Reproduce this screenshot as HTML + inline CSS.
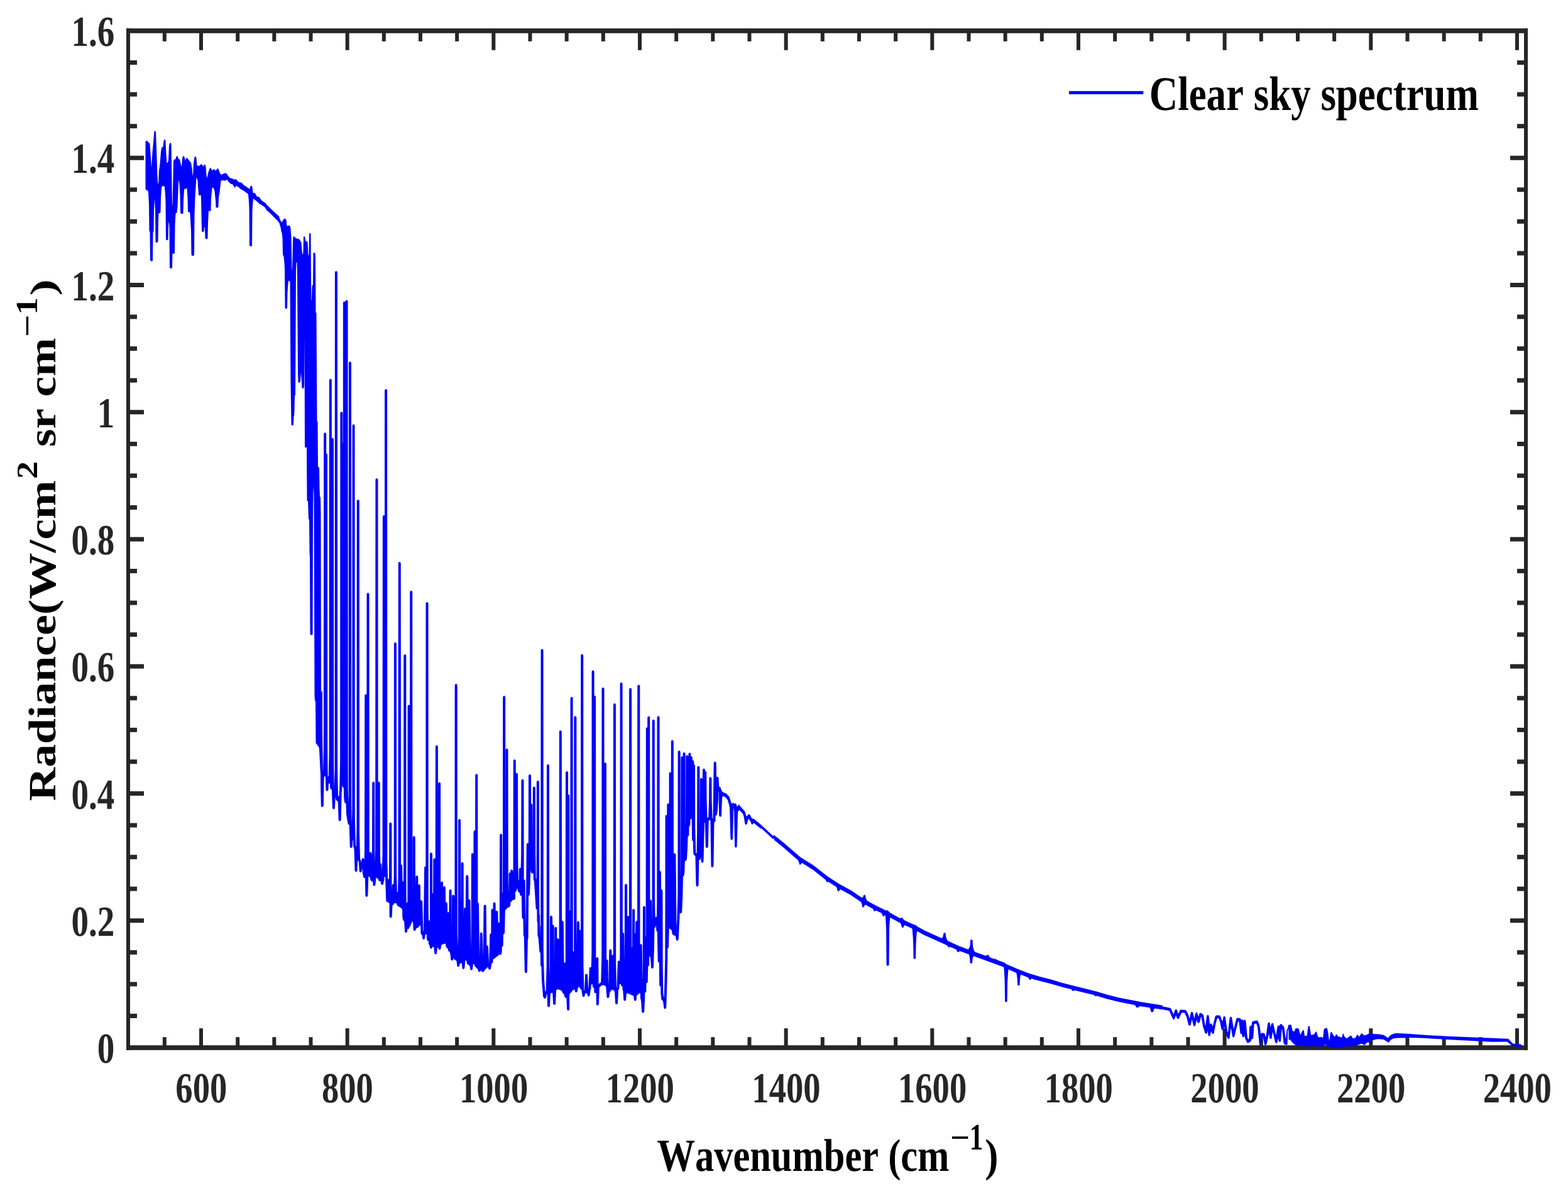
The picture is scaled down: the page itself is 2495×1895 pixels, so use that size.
<!DOCTYPE html>
<html lang="en">
<head>
<meta charset="utf-8">
<title>Clear sky spectrum</title>
<style>
html,body{margin:0;padding:0;background:#fff;}
body{width:2495px;height:1895px;overflow:hidden;}
svg{display:block;}
text{font-family:"Liberation Serif","Times New Roman",serif;font-weight:bold;font-kerning:none;font-variant-ligatures:none;text-rendering:geometricPrecision;}
</style>
</head>
<body>
<svg xmlns="http://www.w3.org/2000/svg" width="2495" height="1895" viewBox="0 0 2495 1895">
<rect x="0" y="0" width="2495" height="1895" fill="#fff"/>
<g fill="#262626">
<rect x="201.00" y="45.20" width="6.00" height="1625.60"/>
<rect x="2425.00" y="45.20" width="6.00" height="1625.60"/>
<rect x="201.00" y="45.20" width="2230.00" height="7.60"/>
<rect x="201.00" y="1663.20" width="2230.00" height="7.60"/>
<rect x="258.83" y="49.00" width="6.00" height="16.80"/>
<rect x="258.83" y="1650.20" width="6.00" height="16.80"/>
<rect x="317.00" y="49.00" width="6.00" height="30.80"/>
<rect x="317.00" y="1636.20" width="6.00" height="30.80"/>
<rect x="375.17" y="49.00" width="6.00" height="16.80"/>
<rect x="375.17" y="1650.20" width="6.00" height="16.80"/>
<rect x="433.33" y="49.00" width="6.00" height="16.80"/>
<rect x="433.33" y="1650.20" width="6.00" height="16.80"/>
<rect x="491.50" y="49.00" width="6.00" height="16.80"/>
<rect x="491.50" y="1650.20" width="6.00" height="16.80"/>
<rect x="549.66" y="49.00" width="6.00" height="30.80"/>
<rect x="549.66" y="1636.20" width="6.00" height="30.80"/>
<rect x="607.83" y="49.00" width="6.00" height="16.80"/>
<rect x="607.83" y="1650.20" width="6.00" height="16.80"/>
<rect x="665.99" y="49.00" width="6.00" height="16.80"/>
<rect x="665.99" y="1650.20" width="6.00" height="16.80"/>
<rect x="724.16" y="49.00" width="6.00" height="16.80"/>
<rect x="724.16" y="1650.20" width="6.00" height="16.80"/>
<rect x="782.32" y="49.00" width="6.00" height="30.80"/>
<rect x="782.32" y="1636.20" width="6.00" height="30.80"/>
<rect x="840.49" y="49.00" width="6.00" height="16.80"/>
<rect x="840.49" y="1650.20" width="6.00" height="16.80"/>
<rect x="898.66" y="49.00" width="6.00" height="16.80"/>
<rect x="898.66" y="1650.20" width="6.00" height="16.80"/>
<rect x="956.82" y="49.00" width="6.00" height="16.80"/>
<rect x="956.82" y="1650.20" width="6.00" height="16.80"/>
<rect x="1014.99" y="49.00" width="6.00" height="30.80"/>
<rect x="1014.99" y="1636.20" width="6.00" height="30.80"/>
<rect x="1073.15" y="49.00" width="6.00" height="16.80"/>
<rect x="1073.15" y="1650.20" width="6.00" height="16.80"/>
<rect x="1131.32" y="49.00" width="6.00" height="16.80"/>
<rect x="1131.32" y="1650.20" width="6.00" height="16.80"/>
<rect x="1189.48" y="49.00" width="6.00" height="16.80"/>
<rect x="1189.48" y="1650.20" width="6.00" height="16.80"/>
<rect x="1247.65" y="49.00" width="6.00" height="30.80"/>
<rect x="1247.65" y="1636.20" width="6.00" height="30.80"/>
<rect x="1305.81" y="49.00" width="6.00" height="16.80"/>
<rect x="1305.81" y="1650.20" width="6.00" height="16.80"/>
<rect x="1363.98" y="49.00" width="6.00" height="16.80"/>
<rect x="1363.98" y="1650.20" width="6.00" height="16.80"/>
<rect x="1422.14" y="49.00" width="6.00" height="16.80"/>
<rect x="1422.14" y="1650.20" width="6.00" height="16.80"/>
<rect x="1480.31" y="49.00" width="6.00" height="30.80"/>
<rect x="1480.31" y="1636.20" width="6.00" height="30.80"/>
<rect x="1538.48" y="49.00" width="6.00" height="16.80"/>
<rect x="1538.48" y="1650.20" width="6.00" height="16.80"/>
<rect x="1596.64" y="49.00" width="6.00" height="16.80"/>
<rect x="1596.64" y="1650.20" width="6.00" height="16.80"/>
<rect x="1654.81" y="49.00" width="6.00" height="16.80"/>
<rect x="1654.81" y="1650.20" width="6.00" height="16.80"/>
<rect x="1712.97" y="49.00" width="6.00" height="30.80"/>
<rect x="1712.97" y="1636.20" width="6.00" height="30.80"/>
<rect x="1771.14" y="49.00" width="6.00" height="16.80"/>
<rect x="1771.14" y="1650.20" width="6.00" height="16.80"/>
<rect x="1829.30" y="49.00" width="6.00" height="16.80"/>
<rect x="1829.30" y="1650.20" width="6.00" height="16.80"/>
<rect x="1887.47" y="49.00" width="6.00" height="16.80"/>
<rect x="1887.47" y="1650.20" width="6.00" height="16.80"/>
<rect x="1945.63" y="49.00" width="6.00" height="30.80"/>
<rect x="1945.63" y="1636.20" width="6.00" height="30.80"/>
<rect x="2003.80" y="49.00" width="6.00" height="16.80"/>
<rect x="2003.80" y="1650.20" width="6.00" height="16.80"/>
<rect x="2061.97" y="49.00" width="6.00" height="16.80"/>
<rect x="2061.97" y="1650.20" width="6.00" height="16.80"/>
<rect x="2120.13" y="49.00" width="6.00" height="16.80"/>
<rect x="2120.13" y="1650.20" width="6.00" height="16.80"/>
<rect x="2178.30" y="49.00" width="6.00" height="30.80"/>
<rect x="2178.30" y="1636.20" width="6.00" height="30.80"/>
<rect x="2236.46" y="49.00" width="6.00" height="16.80"/>
<rect x="2236.46" y="1650.20" width="6.00" height="16.80"/>
<rect x="2294.63" y="49.00" width="6.00" height="16.80"/>
<rect x="2294.63" y="1650.20" width="6.00" height="16.80"/>
<rect x="2352.79" y="49.00" width="6.00" height="16.80"/>
<rect x="2352.79" y="1650.20" width="6.00" height="16.80"/>
<rect x="2410.96" y="49.00" width="6.00" height="30.80"/>
<rect x="2410.96" y="1636.20" width="6.00" height="30.80"/>
<rect x="204.00" y="1612.94" width="14.00" height="7.00"/>
<rect x="2414.00" y="1612.94" width="14.00" height="7.00"/>
<rect x="204.00" y="1562.38" width="14.00" height="7.00"/>
<rect x="2414.00" y="1562.38" width="14.00" height="7.00"/>
<rect x="204.00" y="1511.81" width="14.00" height="7.00"/>
<rect x="2414.00" y="1511.81" width="14.00" height="7.00"/>
<rect x="204.00" y="1461.25" width="25.00" height="7.00"/>
<rect x="2403.00" y="1461.25" width="25.00" height="7.00"/>
<rect x="204.00" y="1410.69" width="14.00" height="7.00"/>
<rect x="2414.00" y="1410.69" width="14.00" height="7.00"/>
<rect x="204.00" y="1360.12" width="14.00" height="7.00"/>
<rect x="2414.00" y="1360.12" width="14.00" height="7.00"/>
<rect x="204.00" y="1309.56" width="14.00" height="7.00"/>
<rect x="2414.00" y="1309.56" width="14.00" height="7.00"/>
<rect x="204.00" y="1259.00" width="25.00" height="7.00"/>
<rect x="2403.00" y="1259.00" width="25.00" height="7.00"/>
<rect x="204.00" y="1208.44" width="14.00" height="7.00"/>
<rect x="2414.00" y="1208.44" width="14.00" height="7.00"/>
<rect x="204.00" y="1157.88" width="14.00" height="7.00"/>
<rect x="2414.00" y="1157.88" width="14.00" height="7.00"/>
<rect x="204.00" y="1107.31" width="14.00" height="7.00"/>
<rect x="2414.00" y="1107.31" width="14.00" height="7.00"/>
<rect x="204.00" y="1056.75" width="25.00" height="7.00"/>
<rect x="2403.00" y="1056.75" width="25.00" height="7.00"/>
<rect x="204.00" y="1006.19" width="14.00" height="7.00"/>
<rect x="2414.00" y="1006.19" width="14.00" height="7.00"/>
<rect x="204.00" y="955.62" width="14.00" height="7.00"/>
<rect x="2414.00" y="955.62" width="14.00" height="7.00"/>
<rect x="204.00" y="905.06" width="14.00" height="7.00"/>
<rect x="2414.00" y="905.06" width="14.00" height="7.00"/>
<rect x="204.00" y="854.50" width="25.00" height="7.00"/>
<rect x="2403.00" y="854.50" width="25.00" height="7.00"/>
<rect x="204.00" y="803.94" width="14.00" height="7.00"/>
<rect x="2414.00" y="803.94" width="14.00" height="7.00"/>
<rect x="204.00" y="753.38" width="14.00" height="7.00"/>
<rect x="2414.00" y="753.38" width="14.00" height="7.00"/>
<rect x="204.00" y="702.81" width="14.00" height="7.00"/>
<rect x="2414.00" y="702.81" width="14.00" height="7.00"/>
<rect x="204.00" y="652.25" width="25.00" height="7.00"/>
<rect x="2403.00" y="652.25" width="25.00" height="7.00"/>
<rect x="204.00" y="601.69" width="14.00" height="7.00"/>
<rect x="2414.00" y="601.69" width="14.00" height="7.00"/>
<rect x="204.00" y="551.12" width="14.00" height="7.00"/>
<rect x="2414.00" y="551.12" width="14.00" height="7.00"/>
<rect x="204.00" y="500.56" width="14.00" height="7.00"/>
<rect x="2414.00" y="500.56" width="14.00" height="7.00"/>
<rect x="204.00" y="450.00" width="25.00" height="7.00"/>
<rect x="2403.00" y="450.00" width="25.00" height="7.00"/>
<rect x="204.00" y="399.44" width="14.00" height="7.00"/>
<rect x="2414.00" y="399.44" width="14.00" height="7.00"/>
<rect x="204.00" y="348.88" width="14.00" height="7.00"/>
<rect x="2414.00" y="348.88" width="14.00" height="7.00"/>
<rect x="204.00" y="298.31" width="14.00" height="7.00"/>
<rect x="2414.00" y="298.31" width="14.00" height="7.00"/>
<rect x="204.00" y="247.75" width="25.00" height="7.00"/>
<rect x="2403.00" y="247.75" width="25.00" height="7.00"/>
<rect x="204.00" y="197.19" width="14.00" height="7.00"/>
<rect x="2414.00" y="197.19" width="14.00" height="7.00"/>
<rect x="204.00" y="146.62" width="14.00" height="7.00"/>
<rect x="2414.00" y="146.62" width="14.00" height="7.00"/>
<rect x="204.00" y="96.06" width="14.00" height="7.00"/>
<rect x="2414.00" y="96.06" width="14.00" height="7.00"/>
</g>
<polygon points="231.5,225 233.5,223.4 235,225.2 237,226.8 238.5,229 241,267.1 242.5,242.6 245.5,209.2 246.5,208 248,209.5 250.5,279.7 251,289.3 252,293.3 253,271.4 254.5,260.8 256,242.1 257,235.4 258,233.6 259,234.8 259.5,232.7 260,227.1 260.5,224.6 261.5,222.2 262,221.7 263,222.6 263.5,225.4 264.5,246.4 265.5,259.3 266,259.6 267,258.3 268,255.2 269,231.7 269.5,229.5 270.5,227.5 271,227.1 272.5,228.4 274,325.3 274.5,326.9 276,256.2 277.5,253 279,254.1 280.5,249.5 281.5,247.9 282,247.7 284.5,253.6 286,253.5 288.5,264.2 289,264.8 290,252 291.5,247.8 292,248 293.5,249.8 295,255.8 296,251.8 297.5,251.2 304,259 305.5,268.1 306.5,278.9 307,278.4 308,260 309.5,250 311,248.2 312.5,251.7 313.5,262.7 314,263.2 315.5,264 317.5,263.5 320.5,260.7 322,262.2 323,264.9 324.5,262.3 326,261.7 327,263.3 327.5,265.4 328.5,279 329.5,283.2 331.5,274 333.5,268.2 335,266.5 337.5,271.2 338,271.2 340,268.8 342,270.5 343,271.9 345,269.2 346.5,267.8 347,268.1 348,270.1 350,275.4 352,278 357,275.8 359,275.3 361,277 363.5,280.6 366,283 369.5,284 373,285.7 375.5,285 378,288 380.5,290 384.5,290.5 387,293.7 397,300.6 397.5,300.4 398.5,296 400,295.4 401,296.2 401.5,297.6 402.5,306.9 405,306.7 406.5,308.4 409,312.9 412,313.1 412.5,313.5 414.5,316.4 417.5,319.9 422,322.8 425,326.3 432.5,333.8 444,344.3 446,350.2 448,353.5 448.5,353.8 450.5,349.8 452.5,347.8 453.5,347.4 454.5,349 455.5,349.6 456.5,359.6 460,358.4 462,360.4 462.5,364.4 463.5,378.1 464.5,429 465,429.5 466,384.1 466.5,376.7 468,376 470.5,378.8 472,379.6 474.5,379.7 477,381.4 479.5,386.3 481,404.7 482,403.6 482.5,400.2 483,376.8 484,376 485,376.7 486.5,384.1 488,383.7 489.5,384.9 490.5,406.5 491,406.1 491.5,404.6 492,373 492.5,371 493,370.6 494.5,371.9 495,449.3 495.5,478.1 496,478.1 496.5,456.8 497,453.7 497.5,453.7 498,452.6 498.5,403 500,401.8 501.5,402.7 502,410.8 502.5,497.2 503.5,497.8 504.5,670.5 505.5,670.5 506,742.9 508,743.7 508.5,776.2 509,790.2 510,791.2 510.5,817.8 511,1100.7 512,1101.2 513,1095.9 513,1284.1 512,1283.9 511,1282.8 510.5,1241.1 508,1193.4 507.5,1189 502.5,1182.3 502,1115.2 501,1115.2 500.5,1107.7 499.5,790.2 499,774.4 498.5,781.6 498,824.4 497.5,1009.5 496.5,1010.5 495,1010.6 494,1009.8 493.5,1008.7 493,887 492.5,878.4 492,827.9 491.5,826 491,826 490,797.1 488.5,797.1 488,712.1 485,712.1 484.5,536.6 484,613.2 483.5,617 483,617.7 482,618.1 481,617.8 480.5,617.4 479,592.4 478,606.1 477.5,608.3 476,609 475,608.6 474.5,608 474,594.1 473,442 472.5,417.8 471.5,417.5 471,428.7 470,628.9 469,629.3 468.5,653.4 468,662 467.5,662.7 467,675.7 466,676.7 464.5,676.7 463.5,675.7 462.5,610.5 461.5,448.5 459.5,446.6 459,447.3 458.5,450.8 457.5,465.8 457,490.3 456,491.2 455,491.3 454,490.8 453.5,490 453,429 452.5,418.8 451.5,408.3 450,405.4 449.5,379.6 448.5,370.3 447.5,369 447,363.7 444.5,355 441,350.5 428.5,338 424.5,335 421.5,330 417.5,327 413,324.6 408.5,320.2 403.5,316.3 403,316.5 402,326.5 401.5,336.5 401,390.7 400.5,391.4 399.5,391.9 398.5,391.9 397.5,391.3 397,390.6 396.5,331 396,320.4 395,309.5 394.5,308.6 387,303 383,301 379.5,297.7 376.5,295.7 376,295.8 373.5,298.7 370.5,293.7 370,293.3 367.5,292.7 364.5,290.2 361,285.7 358,287.7 354.5,286.8 351.5,287.8 349.5,306.5 349,308 348,315.2 347.5,328.9 346.5,330.3 345,330.7 343.5,329.7 343,319 341.5,304.6 340.5,301.1 338.5,298 338,298.2 337.5,299.7 336,315.8 335.5,335.1 335,335.7 334,336.1 332.5,335.4 332,335.8 331,355.3 330.5,379.3 330,380 329,380.5 327.5,380.3 326.5,379.3 326,366.2 325.5,361 325,361.5 324.5,368.2 323,369.2 322,369.1 321,368.2 320,315.8 319.5,309.7 319,310.6 318,311.1 317,311 316,310.2 314.5,288.1 314,285.5 312.5,282.6 310.5,312.9 309.5,342.3 309,405.6 308,406.8 307,407.2 306,407 305,406.3 304.5,405.3 304,366.8 302.5,341.8 302,337.3 300.5,337.7 299.5,337.2 299,336.3 298.5,315.7 297.5,299.3 297,298.9 296.5,300 295.5,300.7 294.5,300.8 293.5,300.3 293,302.3 292,318.8 291.5,339.3 290,340.4 289,340.4 288,340 287,338.3 286.5,310.6 285.5,294.1 284.5,286.2 284,290.3 282.5,329.3 281.5,338 281,338.8 280,339.3 279.5,340.3 279,347.7 278.5,358.4 278,402.6 277.5,403.4 276.5,403.9 275.5,403.8 274.5,402.8 274,426.2 273,427 271.5,427.2 270,425.9 269.5,363.9 269,354.4 268.5,353 268,360.8 267.5,381.3 266.5,382.1 265.5,382.2 264,381.2 263.5,322.6 263,310.4 262,297.8 261.5,296.6 259.5,295.6 257.5,297.2 257,299.4 256,315.2 255.5,337.6 254.5,339 253.5,339.4 252.5,339.1 252,349.6 251.5,384.1 251,385.2 250,385.9 249,386 247.5,385.1 247,335.2 246,316 245,334.3 244.5,368.1 243.5,369.4 243,414.7 242.5,415.3 241.5,415.8 240,415.5 239,413.7 238.5,369.1 237.5,367.2 237,325.1 236,306.3 235.5,303.6 233.5,303 231.5,300.9" fill="#0000ff" stroke="none"/>
<polygon points="1146.1,1252.3 1146.6,1253.3 1147.1,1256 1148.1,1256.8 1149.1,1259.7 1150.1,1260.4 1155.6,1262.6 1160.6,1268 1164.1,1278.9 1164.6,1278.8 1165.1,1278 1166.1,1277.4 1167.1,1277.6 1168.6,1278.9 1169.6,1278.3 1170.6,1278.3 1171.6,1279.4 1172.6,1282.9 1173.1,1283.4 1174.6,1280.8 1175.6,1280.4 1176.6,1280.9 1180.6,1286.1 1185.1,1290.8 1187.6,1298.5 1188.1,1299.1 1191.1,1295.6 1192.1,1295.4 1192.6,1295.6 1193.6,1296.9 1196.1,1301.7 1197.6,1302.7 1199.1,1302.7 1200.1,1303.2 1210.6,1311.9 1229.6,1329.8 1230.1,1330.1 1231.6,1328.9 1232.1,1328.9 1245.6,1339.7 1273.1,1363.5 1294.6,1376.9 1316.6,1394.3 1334.6,1406 1354.6,1416.9 1370.1,1427.5 1371.6,1428.1 1372.6,1427.8 1373.1,1427.4 1374.1,1424.4 1375.1,1423.8 1376.1,1423.9 1377.1,1425.1 1377.6,1428.8 1378.1,1430 1379.6,1432.8 1380.6,1433.8 1392.1,1440.1 1408.1,1448.1 1409.6,1448.6 1410.1,1449 1411.1,1448.2 1412.1,1448.3 1416.6,1452.6 1430.6,1460.2 1432.6,1460.8 1433.1,1461.5 1433.6,1460.4 1434.1,1460.1 1435.6,1460.2 1437.1,1462.3 1439.6,1464.5 1453.6,1470.9 1455.6,1470.9 1456.1,1471.3 1456.6,1472.5 1457.1,1472.1 1460.1,1474.4 1471.6,1480.8 1497.6,1492.5 1499.1,1492.3 1500.6,1490.2 1501.1,1485.9 1501.6,1484.7 1502.6,1484 1504.1,1484.3 1504.6,1484.8 1505.1,1490 1505.6,1491.7 1507.1,1495.6 1508.1,1497.1 1526.1,1505.3 1540.1,1510.4 1541.1,1510.3 1542.6,1507.6 1543.6,1504 1544.1,1495.8 1545.1,1494.9 1546.6,1495 1547.6,1496.2 1548.1,1505.9 1548.6,1508.2 1550.1,1513.1 1551.1,1514.5 1567.6,1520.6 1569.6,1520.5 1571.1,1519.1 1572.1,1519.1 1572.6,1519.4 1573.6,1521.3 1574.6,1522.4 1576.6,1523.9 1581.6,1525.7 1583.1,1525.6 1587.6,1527.8 1599.1,1532 1600.1,1533.5 1618.6,1541.4 1636.6,1548.6 1654.6,1554 1672.6,1558.5 1690.6,1563.9 1744.6,1577.4 1763.1,1582.9 1781.1,1587.4 1817.1,1594.6 1849.1,1599.4 1849.6,1599.9 1850.1,1601.5 1856.1,1602.5 1862.6,1604.1 1863.6,1605.4 1867.1,1613.4 1867.6,1613.3 1869.6,1607 1871.1,1606 1872.1,1606.2 1872.6,1606.6 1874.6,1612.6 1875.1,1612.7 1877.1,1608.2 1877.6,1607.3 1878.6,1606.6 1886.6,1607 1888.1,1608.7 1891.1,1615.1 1892.6,1620.2 1893.1,1619.6 1894.6,1612.2 1895.1,1610.8 1896.1,1609.9 1897.1,1609.9 1898.1,1610.9 1900.1,1619.3 1900.6,1619.9 1901.6,1614.4 1902.6,1611.4 1904.1,1610.8 1905.1,1611.4 1907.1,1617.8 1908.6,1612.5 1909.6,1611.7 1910.6,1611.6 1914.1,1614 1915.1,1615.8 1917.6,1631.2 1918.1,1632.7 1920.1,1616.5 1921.1,1615.1 1922.6,1615.1 1923.1,1615.5 1923.6,1616.9 1925.1,1629.8 1926.1,1628.4 1927.6,1628.4 1928.6,1629.8 1929.6,1633.2 1933.1,1619.2 1933.6,1617.5 1934.6,1615.9 1935.6,1615.5 1940.1,1615.5 1941.6,1616.2 1945.1,1625.5 1946.6,1617.9 1947.6,1617 1948.6,1617 1949.6,1618 1950.1,1620 1952.6,1638.2 1953.1,1641.4 1953.6,1642.4 1954.1,1641 1956.6,1619.8 1957.6,1618 1959.1,1617.7 1960.1,1618.7 1963.1,1637.5 1967.1,1621.4 1967.6,1620.4 1969.1,1619.6 1973.1,1620.1 1974.1,1620.7 1975.1,1623.1 1975.6,1622.5 1976.6,1622.1 1977.6,1622.5 1978.6,1624.3 1979.1,1623.4 1980.1,1622.5 1981.1,1622.5 1982.1,1623.5 1982.6,1625.8 1984.6,1648.3 1985.1,1651.4 1986.6,1654 1987.1,1653.2 1987.6,1648.2 1988.1,1635.5 1988.6,1632.9 1989.6,1632 1991.1,1632.1 1991.6,1630.9 1992.1,1626.4 1992.6,1625.8 1995.6,1624.2 2000.1,1623.7 2001.1,1624.1 2001.6,1624.7 2004.1,1631.2 2004.6,1633.3 2006.1,1645.2 2006.6,1644.2 2007.6,1643.6 2011.6,1643.8 2012.6,1645.2 2013.6,1649.8 2014.1,1649.6 2015.1,1644.4 2017.1,1629.5 2017.6,1627.5 2018.1,1626.9 2019.1,1626.6 2020.1,1626.9 2020.6,1627.7 2021.6,1633.4 2022.1,1633.5 2022.6,1630 2023.6,1628.1 2025.1,1627.8 2026.1,1628.8 2030.1,1646.2 2030.6,1646.2 2032.6,1633.2 2033.1,1632.2 2034.6,1631.6 2036.1,1632.3 2036.6,1630.1 2037.6,1629.2 2038.6,1629.2 2039.6,1630 2043.1,1633.7 2043.6,1635.8 2045.6,1652.4 2046.1,1651.8 2047.6,1638.1 2049.1,1635.9 2050.1,1630.7 2054.1,1630.2 2054.6,1630.7 2056.6,1639.9 2057.1,1640.6 2059.1,1641.3 2059.6,1641 2061.6,1636.2 2062.1,1636 2066.6,1636.4 2069.1,1646.5 2071.6,1641.5 2074.1,1638.2 2074.6,1639.3 2076.1,1648.3 2076.6,1648.6 2079.6,1647.8 2081.6,1632.8 2083.6,1632.8 2084.1,1634.4 2086.1,1646.8 2090.6,1646 2093.1,1642.2 2094.6,1641.1 2097.1,1649.6 2099.6,1650.4 2102.6,1649.7 2105.1,1651.4 2106.6,1637.3 2111.1,1635.2 2111.6,1635.8 2113.1,1641.8 2115.1,1656.4 2117.1,1643 2118.6,1641.5 2121.6,1647.1 2124.1,1649.5 2126.1,1645.5 2126.6,1645.4 2129.6,1649.6 2132.1,1649.6 2134.6,1651.1 2135.1,1650.8 2137.1,1643.6 2139.6,1649.7 2143.1,1652.3 2146.1,1649.7 2149.6,1647.5 2150.1,1647.8 2152.6,1652.3 2156.6,1651.4 2159.6,1645.9 2160.1,1645.9 2162.6,1649.4 2166.6,1643.7 2170.1,1647.2 2170.6,1647.3 2173.6,1646.9 2178.6,1644.2 2184.6,1645 2193.6,1645.5 2201.6,1646.8 2208.6,1651.4 2212.1,1647.6 2216.6,1645 2221.1,1644.1 2229.6,1644.3 2243.6,1645 2266.1,1646.8 2302.1,1648.7 2399.6,1652.7 2400.1,1652.9 2407.1,1660.3 2411.1,1660.9 2420.6,1661.5 2420.6,1665.8 2410.6,1665 2407.6,1664.7 2405.6,1664.1 2401.6,1660.3 2398.1,1657.5 2374.6,1657.7 2302.6,1654.1 2266.1,1651.8 2243.6,1651.1 2239.6,1651.4 2225.6,1651.4 2217.1,1652.3 2212.6,1655.1 2209.6,1659 2201.6,1654.1 2193.6,1653.2 2189.1,1653.7 2184.6,1655 2180.1,1658.6 2175.6,1658.6 2171.1,1663.1 2166.6,1660.4 2157.6,1664 2148.6,1664.9 2139.6,1664.9 2134.6,1668.5 2130.1,1666.8 2123.1,1667.6 2116.6,1665.7 2108.6,1662.3 2103.1,1665 2097.1,1665.8 2094.1,1664.1 2087.1,1664.9 2083.6,1664.1 2079.1,1666.2 2078.6,1666.2 2076.1,1664.9 2071.6,1664 2067.1,1664.5 2060.1,1662.3 2056.1,1658.4 2052.6,1654.1 2050.6,1654.8 2050.1,1635.7 2049.1,1640.9 2048.6,1661.7 2048.1,1662.4 2047.1,1662.8 2044.1,1661.9 2043.1,1661 2042.6,1659.9 2040.1,1638.1 2039.6,1637.8 2038.1,1655.7 2037.6,1657.3 2036.6,1657.9 2035.1,1657.3 2034.6,1656.3 2034.1,1652.9 2033.6,1652.4 2032.6,1658.2 2032.1,1659.3 2031.1,1659.9 2029.6,1659.4 2028.6,1656.6 2025.1,1641.6 2023.6,1651.4 2023.1,1652.7 2022.6,1653.1 2021.1,1653.1 2020.1,1651.7 2019.1,1644.9 2015.6,1661.1 2014.6,1663 2013.6,1663.4 2012.6,1663 2012.1,1662.4 2009.6,1649.4 2009.1,1649.8 2007.1,1660.3 2006.6,1661 2005.6,1661.4 2004.6,1661 2004.1,1660.4 2003.6,1658.8 2001.1,1635.3 2000.6,1633 1999.1,1629 1998.6,1628.7 1996.6,1628.9 1995.6,1629.4 1994.6,1645.5 1994.1,1651.2 1993.6,1652.7 1992.6,1653.3 1991.6,1653.2 1990.6,1656.4 1990.1,1657.1 1986.6,1659.3 1985.6,1659.6 1984.6,1659.2 1984.1,1658.6 1981.6,1653.3 1981.1,1651.6 1980.6,1647.4 1979.6,1649.9 1978.6,1650.5 1977.6,1650.3 1976.6,1648.9 1976.1,1645.8 1975.6,1645.2 1974.1,1645 1973.6,1644.4 1971.6,1627.6 1971.1,1625 1970.6,1624.6 1970.1,1625.3 1969.6,1627.1 1964.6,1647.8 1964.1,1649.4 1963.1,1650.4 1962.1,1650.4 1961.1,1649.5 1959.1,1637.3 1958.6,1636 1956.6,1651.4 1956.1,1652.6 1955.6,1653 1954.6,1653.2 1953.6,1652.6 1949.6,1643.3 1948.1,1633.3 1946.6,1638.5 1945.6,1639.1 1944.1,1638.5 1943.6,1637.5 1941.1,1626.1 1939.6,1621.6 1939.1,1620.5 1938.6,1620.3 1937.1,1620.3 1936.1,1622.8 1934.6,1628.3 1931.6,1644.1 1930.6,1645.1 1929.1,1644.8 1928.1,1643.3 1927.6,1641.5 1927.1,1641.1 1925.6,1647.7 1924.6,1648.6 1923.6,1648.6 1922.6,1647.7 1921.6,1639.7 1920.6,1643.9 1920.1,1644.6 1918.6,1644.9 1917.6,1644 1914.1,1633.3 1911.6,1618.1 1911.1,1617.9 1909.1,1625.4 1908.1,1627.5 1906.6,1628 1905.6,1627.4 1904.1,1622.7 1902.1,1631.8 1901.1,1632.7 1900.1,1632.7 1899.1,1631.9 1896.6,1622.1 1894.6,1630.7 1893.6,1631.9 1892.6,1632.1 1891.6,1631.5 1891.1,1630.5 1888.1,1618.3 1885.1,1611.9 1884.6,1611.6 1880.1,1611.4 1876.1,1620.3 1874.6,1621.4 1873.1,1620.8 1871.1,1615.5 1869.1,1621.1 1868.1,1622 1867.1,1622 1866.1,1621.1 1860.6,1608.6 1855.6,1607.3 1850.1,1606.3 1849.6,1604.9 1849.1,1606.2 1837.6,1604.5 1837.1,1604.7 1836.1,1606.1 1835.1,1609.7 1834.1,1610.5 1832.6,1610.6 1831.6,1609.9 1831.1,1609.1 1830.6,1606 1829.6,1603.7 1829.1,1603.3 1814.1,1600.9 1812.1,1601.7 1811.6,1602.6 1810.6,1603.3 1809.1,1603.3 1808.1,1602.7 1806.1,1599.6 1805.1,1599.1 1780.1,1594 1762.6,1589.7 1746.6,1584.9 1745.1,1584.6 1744.6,1585.1 1743.6,1585.3 1740.1,1583.1 1711.1,1575.9 1709.1,1576.1 1708.1,1577.1 1707.1,1577.1 1705.1,1574.8 1704.1,1574.1 1690.1,1570.6 1672.1,1565.2 1654.1,1560.7 1648.1,1558.9 1646.6,1559.1 1645.6,1558.2 1645.1,1558.4 1642.1,1557.1 1641.1,1557.3 1639.6,1558.9 1638.6,1559.1 1637.6,1558.3 1637.1,1556.8 1635.6,1555.2 1624.6,1550.8 1624.1,1551.6 1623.6,1553.5 1623.1,1556.6 1622.6,1566.9 1621.6,1568 1620.6,1568.2 1619.6,1567.7 1619.1,1567.1 1618.6,1556.3 1617.6,1549.6 1617.1,1548 1605.1,1542.6 1604.6,1542.9 1604.1,1546.3 1603.1,1562.9 1602.6,1593.3 1601.6,1594.3 1600.6,1594.4 1599.6,1593.9 1599.1,1593.1 1598.6,1558.3 1597.6,1542 1597.1,1538.9 1596.6,1538.4 1549.1,1521.2 1548.1,1523.3 1547.6,1525.5 1547.1,1532.1 1546.1,1533 1544.6,1533 1543.6,1531.9 1543.1,1524 1542.1,1519.4 1541.6,1518.4 1528.1,1513.4 1527.1,1513.3 1525.1,1515 1524.1,1515 1523.1,1514 1522.6,1512.5 1521.1,1510.5 1511.6,1506.5 1510.6,1507.4 1509.6,1507.4 1506.6,1504 1471.1,1488 1459.6,1481.7 1459.1,1482.3 1458.6,1485.7 1458.1,1492 1457.6,1501.2 1457.1,1524.9 1456.1,1525.8 1454.6,1525.8 1453.6,1525 1453.1,1500.5 1452.6,1490.2 1451.6,1478.5 1451.1,1477.2 1439.6,1472.1 1438.6,1472.9 1437.6,1475.6 1436.6,1476.2 1435.6,1476 1434.6,1474.7 1434.1,1471.5 1432.6,1468.7 1416.6,1460.1 1416.1,1461.8 1415.1,1475.4 1414.6,1534.9 1413.6,1536.4 1412.6,1536.8 1411.6,1536.6 1410.6,1535.6 1410.1,1478.3 1409.1,1460.3 1408.6,1456.4 1408.1,1456.1 1407.6,1456.5 1406.6,1457.9 1405.1,1458 1404.6,1457.6 1403.1,1453.7 1402.1,1452.6 1394.6,1448.9 1393.1,1449.1 1392.1,1449.9 1391.1,1449.9 1390.6,1449.5 1389.1,1446.5 1388.1,1445.4 1377.1,1439.4 1376.1,1439.9 1375.6,1440.6 1375.1,1442.8 1374.6,1443.3 1373.6,1443.7 1372.6,1443.3 1372.1,1442.8 1371.6,1439.2 1370.1,1435.3 1353.6,1423.9 1337.6,1415.2 1336.6,1415.5 1335.1,1418.1 1334.1,1418.3 1333.1,1417.9 1332.6,1417.3 1331.6,1412.9 1330.6,1411.1 1318.1,1403 1317.1,1403.8 1315.6,1403.5 1313.1,1399.4 1293.1,1383.6 1292.1,1383 1291.6,1383 1289.6,1381.4 1276.6,1373.3 1275.6,1373.3 1275.1,1373.7 1274.1,1375.6 1272.6,1375.7 1272.1,1375.3 1271.1,1371.4 1269.6,1368.4 1244.6,1346.8 1232.1,1336.7 1231.6,1333.9 1230.1,1335.1 1229.6,1334.8 1211.1,1317.4 1210.6,1318.7 1199.6,1309.6 1199.1,1309.8 1197.6,1311.8 1196.6,1311.8 1196.1,1311.5 1195.6,1310.9 1194.6,1307.5 1193.6,1306.6 1191.6,1303.1 1190.6,1303.9 1190.1,1305.1 1188.6,1311.3 1187.1,1312.3 1186.1,1311.9 1185.6,1311.3 1185.1,1309.3 1183.6,1299.6 1182.1,1295.1 1176.6,1288.9 1176.1,1289.1 1175.1,1290.7 1174.1,1291.1 1172.6,1346.4 1172.1,1347.9 1171.6,1348.3 1171.1,1348.6 1170.1,1348.4 1169.1,1346.8 1168.1,1292.3 1167.6,1285.7 1167.1,1288.3 1166.1,1333.8 1165.6,1335.5 1164.6,1336.5 1163.6,1336.5 1162.6,1335.6 1162.1,1326.1 1161.1,1284.9 1160.1,1280.5 1157.6,1272.3 1153.6,1267.9 1150.1,1266.6 1149.6,1267.4 1148.6,1273 1148.1,1280.3 1147.6,1298.7 1146.1,1299.5" fill="#0000ff" stroke="none"/>
<g transform="scale(1,1.275)"><polyline points="511,911.5 511.82,959.3 512.82,1005.1 513.82,963.4 515.86,967.5 516.91,934.5 517.16,541.8 517.41,932.3 518.07,965.3 518.12,965.3 518.72,932.3 518.97,567.6 519.22,934.9 519.69,967.8 519.74,967.8 520.42,985.3 521.42,970.5 524.03,974.7 524.54,976.0 525.59,943.1 525.84,474.7 526.09,949.5 527.14,982.4 527.62,983.2 528.67,950.3 528.92,548.5 529.17,954.3 529.91,987.2 529.96,987.2 530.9,1008.0 531.9,990.7 533.58,993.6 534.63,960.7 534.88,340.2 535.13,964.0 536.18,996.9 538.5,998.7 539.6,995.1 540.67,1022.8 541.74,987.9 542.08,986.8 543.13,953.9 543.38,515.8 543.63,945.6 544.56,978.6 544.61,978.6 545.48,945.6 545.73,554.8 545.98,948.2 546.82,981.2 546.87,981.2 547.65,948.2 547.9,378.0 548.15,962.6 549.2,995.5 550.05,1000.6 551.27,967.7 551.52,376.3 551.77,982.9 552.99,1015.8 554.77,1024.2 555.64,1027.3 556.69,994.4 556.94,453.2 557.19,1002.0 557.85,1035.0 557.9,1035.0 558.75,1056.2 559.75,1041.6 561.08,1046.3 562.3,1013.3 562.55,531.5 562.8,1022.5 564.02,1055.5 565.53,1059.3 566.53,1086.0 567.53,1064.4 568.48,1066.8 569.53,1033.9 569.78,625.5 570.03,1039.6 571.08,1072.5 572.76,1075.2 573.76,1086.7 574.76,1078.4 576.34,1080.8 577.59,1072.9 578.84,1089.3 580.09,1093.8 580.96,1093.4 582.01,1060.5 582.26,868.2 582.51,1059.8 582.8,1092.7 582.85,1092.7 583.35,1117.2 584.35,1092.1 584.43,1092.1 585.27,1059.1 585.52,741.9 585.77,1058.1 586.99,1091.1 587.32,1090.9 588.44,1092.7 589.69,1065.3 590.94,1096.6 591.84,1098.0 592.9,1097.2 593.95,1064.2 594.2,977.2 594.45,1062.7 594.83,1095.7 594.88,1095.7 595.46,1103.7 596.53,1094.4 597.97,1093.3 599.19,1060.3 599.44,598.8 599.69,1061.3 600.91,1094.3 601.39,1094.7 602.44,1061.8 602.69,977.2 602.94,1064.5 603.99,1097.5 604.08,1097.6 605.33,1079.1 606.58,1098.0 607.05,1098.0 608.12,1102.3 609.19,1098.0 609.53,1098.0 610.58,1065.1 610.83,644.9 611.08,1059.5 612.13,1092.4 612.62,1090.4 613.84,1057.4 614.09,487.5 614.34,1074.7 615.56,1107.6 616.26,1123.5 616.85,1123.8 618.1,1098.8 619.35,1125.0 620.02,1125.3 621.07,1092.4 621.32,1028.2 621.5,1126.0 621.55,1126.0 621.68,1143.4 622.68,1126.6 624.59,1127.5 625.84,1105.2 627.09,1125.7 627.62,1125.1 628.67,1092.2 628.92,803.6 629.17,1092.0 630.22,1124.9 630.56,1125.3 631.81,1115.1 633.06,1127.9 634.49,1129.3 635.54,1096.4 635.79,703.1 636.04,1097.6 636.97,1130.6 637.02,1130.6 638.16,1080.9 639.41,1131.8 639.82,1132.3 641.07,1101.8 642.32,1144.1 642.99,1147.2 644.04,1114.3 644.29,818.5 644.54,1118.6 645.19,1151.5 645.24,1151.5 646.09,1161.9 647.09,1154.0 647.25,1154.3 648.41,1127.8 649.51,1157.3 649.56,1157.3 650.36,1124.4 650.61,881.6 650.86,1121.4 651.52,1154.4 651.57,1154.4 652.17,1121.4 652.42,1041.0 652.67,1118.2 653.33,1151.1 653.38,1151.1 653.98,1118.2 654.23,739.1 654.48,1114.4 655.47,1147.3 655.52,1147.3 656.71,1126.4 657.73,1149.3 657.78,1149.3 658.5,1116.3 658.75,1045.3 659,1119.0 659.2,1151.9 659.25,1151.9 659.66,1159.7 660.66,1154.5 661.97,1156.9 663.22,1094.6 664.47,1155.7 665.59,1154.7 666.64,1132.6 666.89,1105.6 667.14,1130.3 668.19,1152.4 668.95,1153.1 670.2,1125.4 671.45,1164.7 673.12,1164.2 674.12,1170.4 675.12,1163.5 675.86,1163.3 677.11,1082.9 678.33,1164.2 678.38,1164.2 679.3,1131.3 679.55,753.3 679.8,1138.4 681.02,1171.3 681.36,1172.2 682.61,1150.4 683.86,1177.3 684.88,1177.8 685.88,1181.9 685.93,1178.3 685.98,1178.3 686.03,1065.9 686.13,1146.0 686.96,1178.9 687.01,1178.9 688.04,1116.3 689.29,1179.8 690,1180.0 691.05,1147.1 691.3,1072.9 691.55,1147.5 692.21,1180.4 692.26,1180.4 693.11,1188.9 694.01,1180.8 694.06,1180.8 694.67,1147.8 694.92,932.0 695.17,1148.0 696.22,1180.9 697.78,1180.0 698.83,1147.1 699.08,978.0 699.26,1179.1 699.31,1179.1 699.44,1183.3 700.44,1178.4 701.76,1177.6 702.81,1144.7 703.06,1102.0 703.31,1143.6 704.36,1176.5 705.65,1176.2 706.9,1107.8 708.15,1175.5 708.7,1175.8 709.95,1127.8 711.2,1179.8 712.39,1181.6 713.64,1140.2 714.89,1185.2 715.32,1185.7 716.37,1152.8 716.62,1111.9 716.87,1156.1 717.92,1189.0 718.33,1189.5 719.33,1196.7 720.24,1191.9 720.29,1191.9 720.89,1159.0 721.14,1118.4 721.39,1161.2 722.01,1194.1 722.06,1194.1 722.87,1120.9 724.12,1195.9 724.27,1196.0 725.41,1163.1 725.66,855.4 725.91,1164.5 727.13,1197.5 728.28,1198.1 729.28,1204.5 730.18,1199.1 730.23,1199.1 730.83,1166.2 731.08,1024.0 731.33,1167.3 732.38,1200.2 732.48,1200.3 733.73,1124.7 734.67,1200.3 734.72,1200.3 735.36,1167.4 735.61,1077.9 735.86,1166.0 736.51,1198.9 736.56,1198.9 737.41,1207.4 738.41,1197.3 738.76,1197.1 740.01,1134.5 741.26,1195.7 742.03,1196.9 743.28,1094.0 744.53,1200.8 745.21,1201.9 746.46,1124.2 747.71,1203.4 749.07,1202.8 750.07,1208.8 750.98,1202.0 751.03,1202.0 751.63,1169.1 751.88,1066.6 752.13,1168.2 753.18,1201.2 753.69,1201.0 754.03,1201.3 755.25,1168.4 755.5,1038.2 755.75,1171.4 756.85,1204.3 756.91,1204.4 757.96,1171.5 758.21,967.6 758.46,1173.7 759.09,1206.7 759.14,1206.7 759.97,1128.2 761.22,1207.8 761.73,1208.0 762.73,1210.9 763.73,1209.1 764.58,1209.5 765.83,1165.6 766.99,1209.5 767.16,1209.5 768.16,1211.2 769.16,1209.5 769.96,1209.5 770.35,1209.2 771.6,1131.1 772.85,1207.2 773.72,1206.6 774.97,1181.8 776.22,1205.0 778.01,1204.5 779.01,1208.1 780.01,1204.1 780.13,1204.0 781.25,1166.9 782.39,1200.2 782.44,1200.2 783.28,1171.3 783.53,1136.1 783.78,1166.2 785,1195.0 785.34,1194.7 786.59,1127.8 787.84,1193.3 789.15,1192.5 790.4,1138.5 791.65,1191.1 791.91,1190.9 793.16,1152.9 794.41,1188.9 795.18,1188.3 796.18,1189.6 796.64,1187.1 796.69,1187.1 796.84,1154.2 797.09,1042.4 797.34,1146.6 798.52,1179.5 798.71,1178.6 799.96,1115.5 801.05,1163.8 801.1,1163.8 801.9,1130.9 802.15,870.3 802.4,1100.9 803.62,1133.9 805.19,1132.2 806.24,1099.2 806.49,936.2 806.74,1098.0 807.79,1131.0 809.75,1130.0 810.26,1129.0 811.31,1111.8 811.56,1090.7 811.81,1106.1 812.85,1123.4 812.9,1123.3 814.15,1087.1 815.4,1121.6 815.68,1121.6 816.73,1107.1 816.98,1089.3 817.23,1106.4 817.88,1120.9 817.93,1120.9 818.54,1087.9 818.79,949.6 819.04,1078.0 820.09,1110.9 820.74,1108.0 821.79,1075.1 822.04,966.6 822.29,1074.2 823.23,1107.1 823.28,1107.1 824.42,1100.2 825.67,1110.8 826.53,1112.1 827.58,1099.9 827.83,1085.0 828.08,1103.8 829.13,1116.0 830.15,1100.1 831.2,1067.1 831.45,974.3 831.7,1111.9 832.53,1144.9 832.58,1144.9 833.62,1099.5 834.87,1167.2 835.8,1168.1 836.87,1212.3 837.94,1170.0 838.53,1170.5 839.78,1054.0 841.03,1115.8 841.72,1101.6 842.77,1068.7 843.02,968.2 843.27,1051.6 844.2,1084.5 844.25,1084.5 845.12,1051.6 845.37,1004.7 845.62,1054.6 846.67,1087.5 847.18,1088.1 848.59,1084.4 849.64,1051.5 849.89,983.5 850.14,1064.8 850.8,1097.7 851.7,1097.7 854.56,1132.9 855.61,1099.9 855.86,976.1 856.11,1116.3 856.49,1149.3 856.54,1149.3 856.87,1146.3 857.12,1142.6 857.37,1166.9 858.59,1169.9 858.93,1173.2 860.35,1187.1 861.4,1173.4 861.65,1156.8 861.9,1190.6 862.1,1204.2 862.15,1204.2 862.3,1171.3 862.55,811.8 862.8,1190.1 864.02,1223.1 866.07,1243.1 867.07,1244.2 868.07,1240.5 869.78,1237.9 870.65,1237.9 871.7,1204.9 871.95,955.8 872.2,1204.9 872.5,1237.9 872.55,1237.9 873.04,1254.9 874.04,1237.9 875.72,1237.9 876.77,1204.9 877.02,1144.5 877.27,1204.2 878.32,1237.2 878.43,1237.1 879.48,1204.2 879.73,1155.9 879.98,1202.9 880.9,1235.8 881.08,1235.8 882.08,1252.1 883.08,1234.7 883.16,1234.7 884,1201.7 884.25,1158.7 884.5,1200.5 885.55,1233.4 886.38,1232.9 887.63,1172.9 888.88,1232.6 890.54,1233.3 891.59,1200.3 891.84,913.3 892.09,1201.3 893.14,1234.3 893.52,1234.4 894.77,1151.0 896.02,1236.5 897.3,1238.5 898.55,1202.9 899.8,1242.4 900.67,1243.4 901.72,1210.4 901.97,964.3 902.22,1208.3 903.06,1241.3 903.11,1241.2 904.14,1259.1 904.19,1240.2 904.24,1240.2 904.29,993.4 904.39,1206.1 905.4,1239.1 905.45,1239.1 906.66,1138.0 907.91,1236.8 908.27,1236.5 909.32,1203.5 909.57,871.7 909.82,1201.3 910.73,1234.2 910.78,1234.2 911.89,1189.1 913.14,1233.2 914.05,1232.9 915.1,1200.0 915.35,895.5 915.6,1199.5 916.08,1232.4 916.13,1232.4 916.8,1236.5 917.8,1231.7 918.77,1231.1 920.02,1151.5 921.27,1229.9 921.83,1229.6 922.88,1199.3 923.13,1162.3 923.38,1202.0 924.43,1232.3 924.73,1232.7 925.95,1199.8 926.2,818.2 926.45,1203.4 927.38,1236.3 927.55,1236.5 928.55,1242.1 929.55,1237.9 931.81,1237.9 933.06,1217.2 934.31,1237.9 935.69,1237.9 936.69,1241.4 937.69,1235.2 938.48,1233.2 939.73,1208.8 940.98,1226.7 942.09,1223.8 943.31,1190.8 943.56,838.5 943.81,1197.8 944.83,1230.7 944.88,1230.7 945.84,1197.8 946.09,870.0 946.34,1204.5 947.39,1237.5 948.95,1235.7 950,1218.0 950.25,1196.5 950.52,1233.2 950.57,1233.2 950.8,1252.8 951.87,1231.1 956.58,1227.7 958.18,1227.7 959.23,1194.7 959.48,859.8 959.73,1194.7 960.78,1227.7 961.61,1227.7 962.66,1194.7 962.91,953.6 963.16,1195.8 964.21,1228.8 964.32,1229.1 965.37,1215.7 965.62,1199.3 965.87,1221.9 966.53,1235.3 966.58,1235.3 967.43,1243.5 968.43,1237.1 970.05,1235.8 971.3,1186.6 972.55,1233.9 973.54,1233.1 974.79,1193.5 976.04,1233.4 976.62,1234.0 977.67,1201.0 977.92,879.6 978.17,1203.4 979.22,1236.3 979.99,1236.9 980.99,1251.4 981.99,1235.6 983.56,1232.1 984.81,1200.8 986.06,1226.5 987.12,1224.2 988.34,1191.2 988.59,853.6 988.84,1196.0 989.86,1228.9 989.91,1228.9 991.13,1165.7 992.38,1234.1 993.2,1235.8 994.2,1247.1 995.1,1237.9 995.15,1237.9 995.75,1204.9 996,1104.9 996.25,1204.9 997.3,1237.9 998.22,1237.9 999.47,1144.9 1000.72,1238.1 1001.76,1238.6 1002.81,1205.6 1003.06,860.5 1003.31,1206.6 1004.24,1239.5 1004.29,1239.5 1005.43,1183.9 1006.68,1240.5 1006.82,1240.5 1007.87,1207.6 1008.12,1136.1 1008.37,1208.6 1009.42,1241.6 1009.83,1241.7 1010.83,1247.1 1010.88,1242.1 1010.93,1242.1 1010.98,1166.7 1011.08,1208.2 1012.01,1241.2 1012.06,1241.2 1013.19,1151.1 1014.44,1239.3 1014.96,1238.9 1016.01,1206.0 1016.26,856.5 1016.51,1203.9 1017.56,1236.9 1018.07,1236.5 1018.42,1237.6 1019.67,1180.0 1020.92,1245.3 1022.06,1248.8 1023.13,1262.0 1024.03,1247.6 1024.08,1247.6 1024.69,1214.7 1024.94,1132.5 1025.19,1203.8 1026.24,1236.8 1026.32,1236.4 1027.57,1170.6 1028.69,1224.8 1028.74,1224.8 1029.57,1191.8 1029.82,909.7 1030.07,1171.1 1030.99,1204.1 1031.04,1204.1 1031.92,1171.1 1032.17,895.8 1032.42,1157.7 1033.47,1190.7 1033.79,1191.0 1035.04,1124.8 1036.29,1193.6 1036.96,1194.3 1037.96,1206.7 1038.86,1184.0 1038.91,1184.0 1039.51,1151.1 1039.76,899.8 1040.01,1123.4 1041.06,1156.3 1042.48,1148.5 1044.19,1146.3 1045.19,1152.8 1046.19,1158.7 1046.37,1161.0 1047.29,1128.1 1047.54,895.5 1047.79,1166.3 1048.7,1199.2 1048.75,1199.2 1049.86,1088.6 1051.11,1228.9 1051.16,1229.0 1052.17,1196.1 1052.42,1111.9 1052.67,1206.4 1053.33,1239.3 1053.38,1239.3 1054.23,1246.4 1055.23,1245.6 1057.21,1249.9 1058.21,1257.0 1059.21,1231.6 1059.39,1228.0 1060.31,1195.1 1060.56,1018.9 1060.81,1148.9 1061.86,1181.8 1061.97,1180.8 1063.02,1147.8 1063.27,1004.6 1063.52,1124.4 1064.57,1157.3 1065.32,1153.2 1066.37,1120.2 1066.62,965.6 1066.87,1124.9 1067.92,1157.8 1068.48,1158.7 1069.53,1125.8 1069.78,925.6 1070.03,1130.4 1071.08,1163.4 1072.12,1165.2 1073.37,1066.8 1074.62,1166.1 1076.74,1166.7 1077.74,1171.9 1078.74,1154.4 1079.33,1147.0 1080.38,1114.0 1080.63,938.7 1080.88,1100.7 1081.9,1133.6 1082.16,1133.8 1083.16,1137.9 1084.16,1120.2 1084.25,1119.0 1085.08,1086.0 1085.33,945.8 1085.58,1058.9 1086.63,1091.8 1087.29,1088.2 1088.34,1055.3 1088.59,940.9 1088.84,1040.0 1089.76,1072.9 1090.94,1071.8 1092.12,1056.8 1093.04,1023.8 1093.29,944.4 1093.54,1008.9 1094.29,1041.9 1094.34,1041.9 1095.03,1008.9 1095.28,947.2 1095.53,996.5 1096.32,1029.4 1096.37,1029.4 1097.11,996.5 1097.36,941.2 1097.61,987.6 1098.58,1020.5 1098.63,1020.5 1099.55,987.6 1099.8,945.8 1100.05,977.9 1101.07,1010.8 1101.12,1010.8 1102.08,983.8 1102.33,950.7 1102.58,1020.8 1103.15,1047.8 1103.2,1047.8 1103.71,1014.9 1103.96,955.8 1104.21,1032.1 1105.26,1065.0 1108.39,1067.5 1109.39,1103.8 1109.44,1068.2 1109.49,1068.2 1109.54,1104.4 1110.38,1069.0 1110.43,1069.0 1111.12,1036.1 1111.37,957.9 1111.62,1037.9 1112.67,1070.8 1113,1071.1 1114.6,1061.9 1115.65,1028.9 1115.9,972.8 1116.15,1016.8 1116.71,1049.7 1116.76,1049.7 1117.52,1074.6 1118.52,1039.3 1118.74,1038.0 1119.71,1005.1 1119.96,961.0 1120.21,991.6 1121.09,1024.5 1121.14,1024.5 1121.97,997.4 1122.22,964.2 1122.47,996.2 1123.49,1023.4 1123.76,1023.2 1124.76,1056.2 1125.76,1022.4 1128.37,1021.4 1129.06,1021.6 1130.11,999.1 1130.36,971.7 1130.61,1000.0 1131.66,1022.4 1132.44,1022.7 1133.44,1080.3 1134.44,1023.4 1136.44,1024.0 1137.69,952.3 1138.94,1015.9 1139.91,1010.6 1140.96,996.7 1141.21,979.8 1141.46,971.2 1142.51,985.0 1143.53,985.5 1144.58,984.7 1144.83,983.8 1145.08,987.1 1145.46,987.9 1145.51,987.9 1146.09,1017.2 1147.09,989.2 1148.6,989.2" fill="none" stroke="#0000ff" stroke-width="4" stroke-linejoin="round" stroke-linecap="butt"/></g>
<text font-size="100" text-anchor="middle" fill="#262626" transform="translate(320.30,1753.50) scale(0.5460,0.6840)">600</text>
<text font-size="100" text-anchor="middle" fill="#262626" transform="translate(552.96,1753.50) scale(0.5460,0.6840)">800</text>
<text font-size="100" text-anchor="middle" fill="#262626" transform="translate(785.62,1753.50) scale(0.5460,0.6840)">1000</text>
<text font-size="100" text-anchor="middle" fill="#262626" transform="translate(1018.29,1753.50) scale(0.5460,0.6840)">1200</text>
<text font-size="100" text-anchor="middle" fill="#262626" transform="translate(1250.95,1753.50) scale(0.5460,0.6840)">1400</text>
<text font-size="100" text-anchor="middle" fill="#262626" transform="translate(1483.61,1753.50) scale(0.5460,0.6840)">1600</text>
<text font-size="100" text-anchor="middle" fill="#262626" transform="translate(1716.27,1753.50) scale(0.5460,0.6840)">1800</text>
<text font-size="100" text-anchor="middle" fill="#262626" transform="translate(1948.93,1753.50) scale(0.5460,0.6840)">2000</text>
<text font-size="100" text-anchor="middle" fill="#262626" transform="translate(2181.60,1753.50) scale(0.5460,0.6840)">2200</text>
<text font-size="100" text-anchor="middle" fill="#262626" transform="translate(2414.26,1753.50) scale(0.5460,0.6840)">2400</text>
<text font-size="100" text-anchor="end" fill="#262626" transform="translate(182.30,1691.20) scale(0.5510,0.6840)">0</text>
<text font-size="100" text-anchor="end" fill="#262626" transform="translate(182.30,1488.95) scale(0.5510,0.6840)">0.2</text>
<text font-size="100" text-anchor="end" fill="#262626" transform="translate(182.30,1286.70) scale(0.5510,0.6840)">0.4</text>
<text font-size="100" text-anchor="end" fill="#262626" transform="translate(182.30,1084.45) scale(0.5510,0.6840)">0.6</text>
<text font-size="100" text-anchor="end" fill="#262626" transform="translate(182.30,882.20) scale(0.5510,0.6840)">0.8</text>
<text font-size="100" text-anchor="end" fill="#262626" transform="translate(182.30,679.95) scale(0.5510,0.6840)">1</text>
<text font-size="100" text-anchor="end" fill="#262626" transform="translate(182.30,477.70) scale(0.5510,0.6840)">1.2</text>
<text font-size="100" text-anchor="end" fill="#262626" transform="translate(182.30,275.45) scale(0.5510,0.6840)">1.4</text>
<text font-size="100" text-anchor="end" fill="#262626" transform="translate(182.30,73.20) scale(0.5510,0.6840)">1.6</text>
<text font-size="100" fill="#000" transform="translate(1045.50,1863.00) scale(0.6044,0.7330)">Wavenumber (cm</text>
<text font-size="100" font-weight="normal" fill="#000" transform="translate(1512.10,1828.20) scale(0.5480,0.5400)">−</text>
<text font-size="100" fill="#000" transform="translate(1542.80,1829.00) scale(0.4320,0.5970)">1</text>
<text font-size="100" fill="#000" transform="translate(1567.20,1863.00) scale(0.6380,0.7330)">)</text>
<text font-size="100" fill="#000" transform="translate(87.90,1274.40) rotate(-90) scale(0.7406,0.6150)">Radiance(W/cm</text>
<text font-size="100" fill="#000" transform="translate(58.60,761.90) rotate(-90) scale(0.5620,0.4690)">2</text>
<text font-size="100" fill="#000" transform="translate(87.90,711.10) rotate(-90) scale(0.7360,0.6150)">sr cm</text>
<text font-size="100" font-weight="normal" fill="#000" transform="translate(60.25,536.60) rotate(-90) scale(0.6350,0.5000)">−</text>
<text font-size="100" fill="#000" transform="translate(59.40,501.10) rotate(-90) scale(0.5590,0.4880)">1</text>
<text font-size="100" fill="#000" transform="translate(87.20,470.40) rotate(-90) scale(0.7920,0.5640)">)</text>
<rect x="1701" y="144.9" width="118.3" height="5.05" fill="#0000ff"/>
<text font-size="100" fill="#000" transform="translate(1828.70,175.00) scale(0.6293,0.7700)">Clear sky spectrum</text>
</svg>
</body>
</html>
